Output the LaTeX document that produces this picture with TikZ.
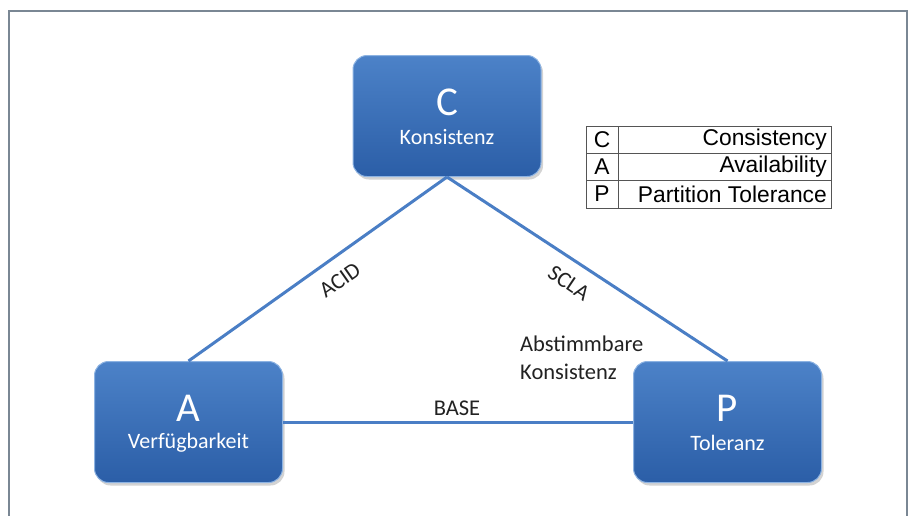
\documentclass[tikz,border=0pt]{standalone}
\usepackage{fontspec}
\setmainfont{Carlito}
\newfontfamily\arialf{Liberation Sans}
\usetikzlibrary{shadows}
\definecolor{boxtop}{HTML}{4C82C8}
\definecolor{boxbot}{HTML}{2B5EA7}
\definecolor{boxrim}{HTML}{8DB3E2}
\definecolor{edgec}{HTML}{4A7EC5}
\definecolor{framec}{HTML}{7A8794}
\definecolor{labc}{HTML}{222222}
\definecolor{tabc}{HTML}{555555}
\begin{document}
\begin{tikzpicture}[x=1pt,y=-1pt,
  capbox/.style={rounded corners=14pt, top color=boxtop, bottom color=boxbot,
    draw=boxrim, line width=1pt, minimum width=188pt, minimum height=121pt,
    drop shadow={shadow xshift=2pt, shadow yshift=-3pt, opacity=0.35}},
  bigletter/.style={text=white, font=\fontsize{41}{41}\selectfont},
  subtitle/.style={text=white, font=\fontsize{22}{26}\selectfont},
  edgelabel/.style={text=labc, font=\fontsize{22.5}{28}\selectfont},
  conn/.style={draw=edgec, line width=3pt},
  tabtext/.style={text=black, font=\arialf\fontsize{22.8}{26}\selectfont, inner sep=0pt},
  tabline/.style={draw=tabc, line width=1pt}]
\useasboundingbox (0,0) rectangle (910,515);
\clip (0,0) rectangle (910,515);
% frame
\draw[framec, line width=2.5pt] (9,530) -- (9,11) -- (907,11) -- (907,530);
% boxes
\node[capbox] (C) at (447,116) {};
\node[capbox] (A) at (188.5,422) {};
\node[capbox] (P) at (727.5,422) {};
% connectors
\draw[conn] (C.south) -- (A.north);
\draw[conn] (C.south) -- (P.north);
\draw[conn] (A.east) -- (P.west);
% box texts
\node[bigletter] (Cl) at (447,102) {C};
\node[subtitle] (Cs) at (447,137) {Konsistenz};
\node[bigletter] (Al) at (188.5,408) {A};
\node[subtitle] (As) at (188.5,443) {Verfügbarkeit};
\node[bigletter] (Pl) at (727.5,408) {P};
\node[subtitle] (Ps) at (727.5,443) {Toleranz};
% edge labels
\node[edgelabel, rotate=35] (acid) at (340,280) {ACID};
\node[edgelabel, rotate=-34] (scla) at (569,283) {SCLA};
\node[edgelabel] (base) at (457,408) {BASE};
\node[edgelabel, align=left, anchor=west, inner sep=0pt] (abst) at (520,358) {Abstimmbare\\Konsistenz};
% legend table
\draw[tabline] (586,126) rectangle (831,208);
\draw[tabline] (586,153) -- (831,153);
\draw[tabline] (586,180) -- (831,180);
\draw[tabline] (618,126) -- (618,208);
\node[tabtext] (t1a) at (602,140) {C};
\node[tabtext] (t2a) at (602,167) {A};
\node[tabtext] (t3a) at (602,194) {P};
\node[tabtext, anchor=east] (t1b) at (827,140) {Consistency};
\node[tabtext, anchor=east] (t2b) at (827,167) {Availability};
\node[tabtext, anchor=east] (t3b) at (827,194) {Partition Tolerance};
\end{tikzpicture}
\end{document}
